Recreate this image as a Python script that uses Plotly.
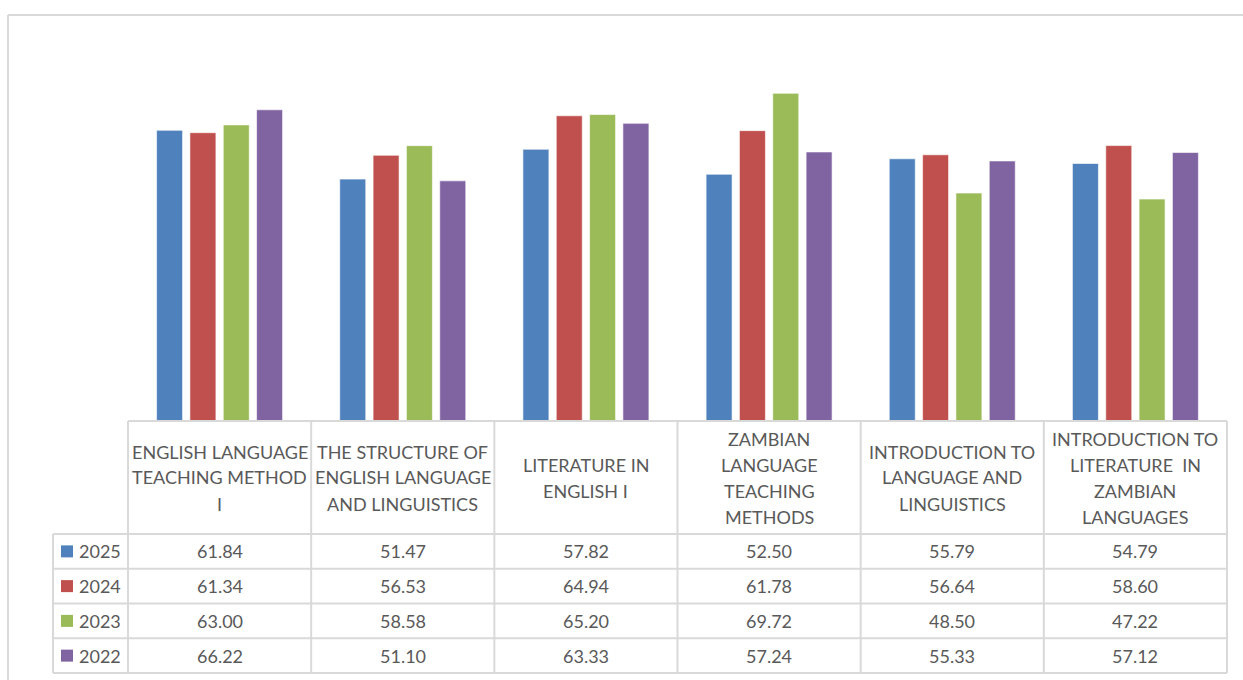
import plotly.graph_objects as go

# Course names (header cells of the data table), one line per <br>
courses = [
    "ENGLISH LANGUAGE<br>TEACHING METHOD<br>I",
    "THE STRUCTURE OF<br>ENGLISH LANGUAGE<br>AND LINGUISTICS",
    "LITERATURE IN<br>ENGLISH I",
    "ZAMBIAN<br>LANGUAGE<br>TEACHING<br>METHODS",
    "INTRODUCTION TO<br>LANGUAGE AND<br>LINGUISTICS",
    "INTRODUCTION TO<br>LITERATURE  IN<br>ZAMBIAN<br>LANGUAGES",
]

years = ["2025", "2024", "2023", "2022"]
scores_2025 = [61.84, 51.47, 57.82, 52.50, 55.79, 54.79]
scores_2024 = [61.34, 56.53, 64.94, 61.78, 56.64, 58.60]
scores_2023 = [63.00, 58.58, 65.20, 69.72, 48.50, 47.22]
scores_2022 = [66.22, 51.10, 63.33, 57.24, 55.33, 57.12]
series = [scores_2025, scores_2024, scores_2023, scores_2022]
colors = ["#4F81BD", "#C0504D", "#9BBB59", "#8064A2"]

W, H = 1243, 680
FONT = "Lato"
TXT = "#595959"
GRID = "#D9D9D9"


def px(x):
    return x / W


def py(y):
    return 1 - y / H


# table geometry (pixels)
x_left, x_plot0, x_plot1 = 53, 128, 1227
y_base, y_head_bot, y_bot = 421, 534, 673
ncat = len(courses)
col_w = (x_plot1 - x_plot0) / ncat
row_h = (y_bot - y_head_bot) / len(years)

fig = go.Figure()
cats = [f"c{i}" for i in range(ncat)]
for name, vals, col in zip(years, series, colors):
    fig.add_trace(go.Bar(
        x=cats, y=vals, name=name,
        marker=dict(color=col, line=dict(color="rgba(255,255,255,0.6)", width=1)),
        showlegend=False, hoverinfo="y+name",
    ))

shapes = []
ann = []

# outer chart-area border (top and left edges visible)
shapes.append(dict(type="line", xref="paper", yref="paper",
                   x0=px(8), x1=px(1243), y0=py(15), y1=py(15),
                   line=dict(color=GRID, width=2)))
shapes.append(dict(type="line", xref="paper", yref="paper",
                   x0=px(8), x1=px(8), y0=py(15), y1=py(680),
                   line=dict(color=GRID, width=2)))

line_style = dict(color=GRID, width=2)
# horizontal table lines
shapes.append(dict(type="line", xref="paper", yref="paper",
                   x0=px(x_plot0), x1=px(x_plot1), y0=py(y_base), y1=py(y_base),
                   line=line_style))
for r in range(len(years) + 1):
    yy = y_head_bot + r * row_h
    shapes.append(dict(type="line", xref="paper", yref="paper",
                       x0=px(x_left), x1=px(x_plot1), y0=py(yy), y1=py(yy),
                       line=line_style))
# vertical table lines
shapes.append(dict(type="line", xref="paper", yref="paper",
                   x0=px(x_left), x1=px(x_left), y0=py(y_head_bot), y1=py(y_bot),
                   line=line_style))
for c in range(ncat + 1):
    xx = x_plot0 + c * col_w
    shapes.append(dict(type="line", xref="paper", yref="paper",
                       x0=px(xx), x1=px(xx), y0=py(y_base), y1=py(y_bot),
                       line=line_style))

font = dict(family=FONT, size=18, color=TXT)
line_gap = 26
head_mid = (y_base + y_head_bot) / 2

# header cells, each line placed individually
for c, label in enumerate(courses):
    lines = label.split("<br>")
    xc = x_plot0 + (c + 0.5) * col_w
    n = len(lines)
    for k, t in enumerate(lines):
        yc = head_mid + (k - (n - 1) / 2) * line_gap
        ann.append(dict(x=px(xc), y=py(yc), xref="paper", yref="paper",
                        text=t, showarrow=False, font=font,
                        xanchor="center", yanchor="middle"))

# value rows with legend keys
for r, (name, vals, col) in enumerate(zip(years, series, colors)):
    yc = y_head_bot + (r + 0.5) * row_h
    shapes.append(dict(type="rect", xref="paper", yref="paper",
                       x0=px(61), x1=px(73), y0=py(yc - 6), y1=py(yc + 6),
                       fillcolor=col, line=dict(width=0)))
    ann.append(dict(x=px(77), y=py(yc), xref="paper", yref="paper",
                    text=name, showarrow=False, font=font,
                    xanchor="left", yanchor="middle"))
    for c, v in enumerate(vals):
        xc = x_plot0 + (c + 0.5) * col_w
        ann.append(dict(x=px(xc), y=py(yc), xref="paper", yref="paper",
                        text=f"{v:.2f}", showarrow=False, font=font,
                        xanchor="center", yanchor="middle"))

fig.update_layout(
    width=W, height=H,
    margin=dict(l=0, r=0, t=0, b=0),
    paper_bgcolor="white", plot_bgcolor="white",
    barmode="group", bargap=0.272, bargroupgap=0.22,
    xaxis=dict(domain=[px(x_plot0), px(x_plot1)], showticklabels=False,
               showgrid=False, zeroline=False, showline=False, ticks=""),
    yaxis=dict(domain=[py(y_base), py(45)], range=[0, 80], visible=False),
    shapes=shapes, annotations=ann,
)

fig.write_html("out.html")
